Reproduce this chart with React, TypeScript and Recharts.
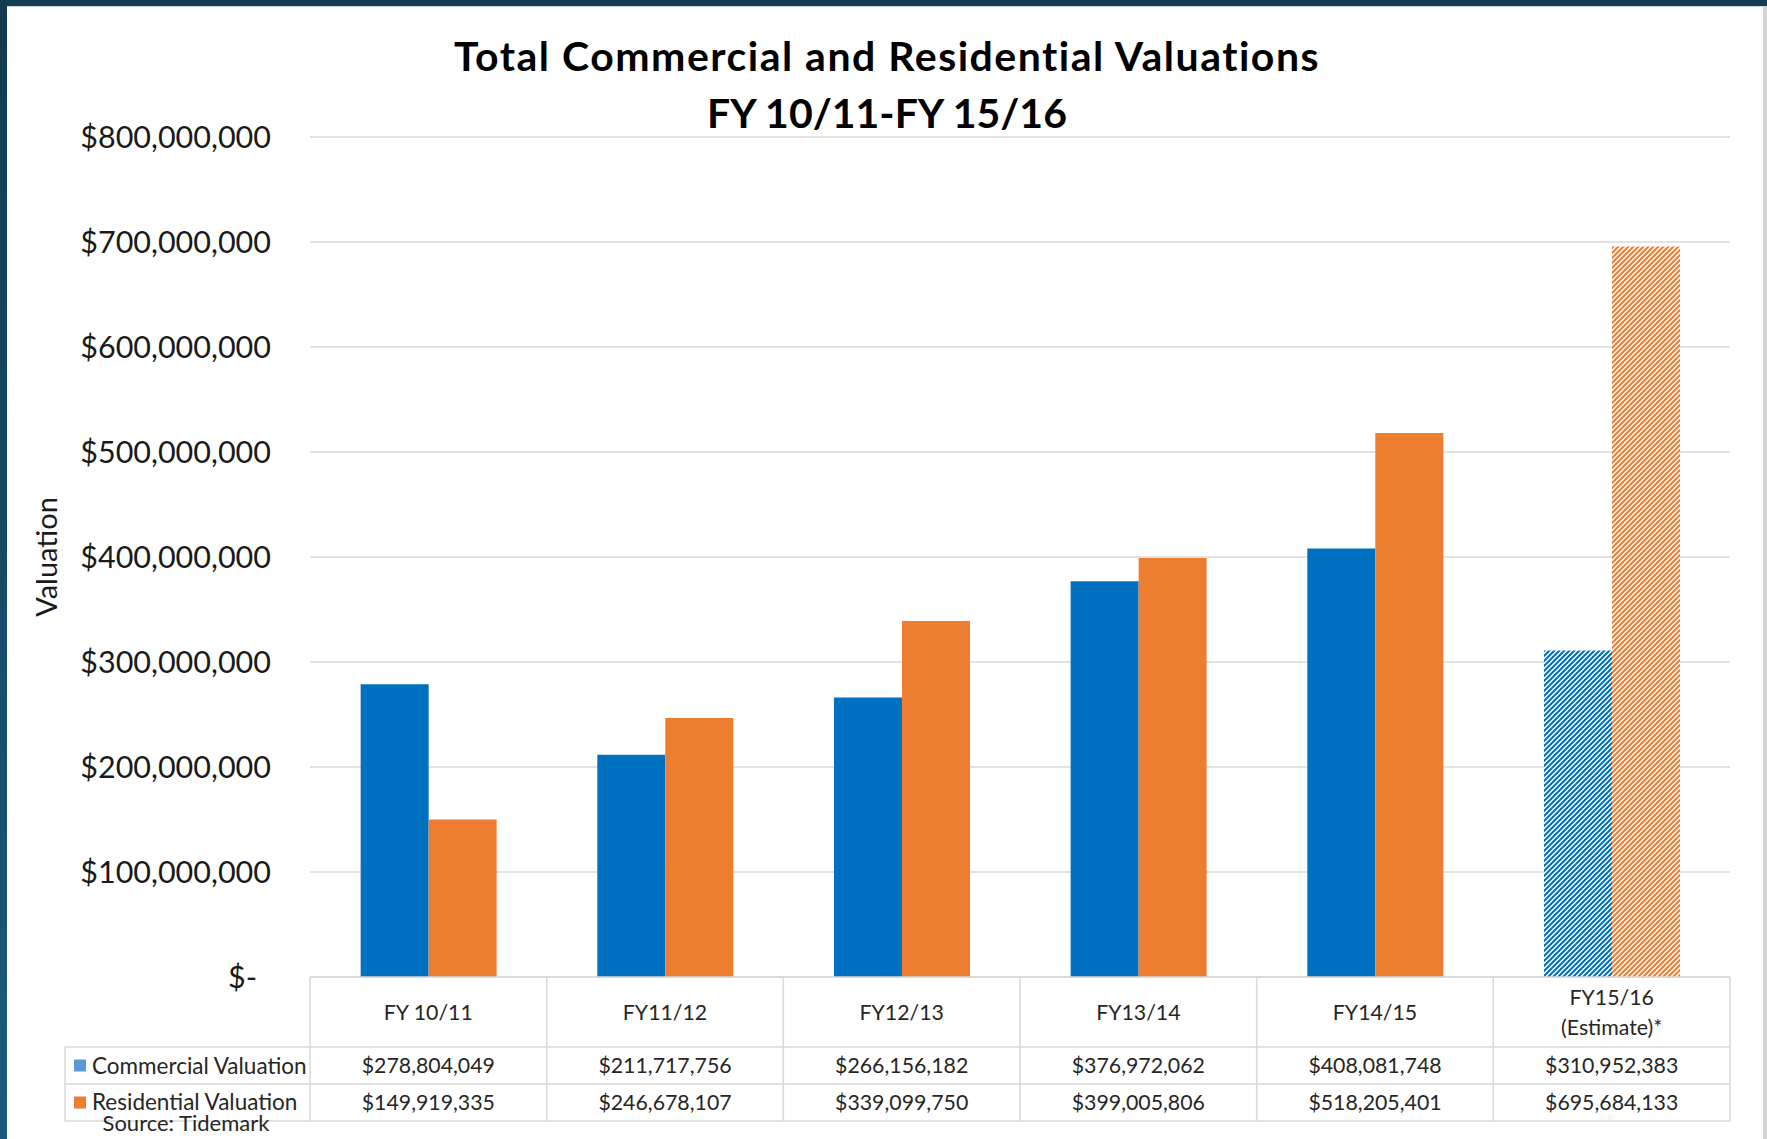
import React from 'react';
import { BarChart, Bar, XAxis, YAxis, CartesianGrid, Cell } from 'recharts';

const categories = ['FY 10/11', 'FY11/12', 'FY12/13', 'FY13/14', 'FY14/15', 'FY15/16\n(Estimate)*'];
const commercial = [278804049, 211717756, 266156182, 376972062, 408081748, 310952383];
const residential = [149919335, 246678107, 339099750, 399005806, 518205401, 695684133];
const isEstimate = [false, false, false, false, false, true];
const yTicks = [0, 100000000, 200000000, 300000000, 400000000, 500000000, 600000000, 700000000, 800000000];
const seriesNames = ['Commercial Valuation', 'Residential Valuation'];
const titleLines = ['Total Commercial and Residential Valuations', 'FY 10/11-FY 15/16'];

const data = categories.map((c, i) => ({
  category: c,
  commercial: commercial[i],
  residential: residential[i],
}));

const BLUE = '#0070C0';
const ORANGE = '#ED7D31';
const LEG_BLUE = '#5B9BD5';
const GRID = '#D9D9D9';
const FONT = 'Lato, "Open Sans", sans-serif';

const W = 1767;
const H = 1139;
const PLOT_LEFT = 310;
const PLOT_RIGHT = 1730;
const BAND = (PLOT_RIGHT - PLOT_LEFT) / categories.length;

function money(v: number): string {
  const s = Math.round(v).toString();
  let out = '';
  for (let i = 0; i < s.length; i++) {
    if (i > 0 && (s.length - i) % 3 === 0) out += ',';
    out += s[i];
  }
  return '$' + out;
}

const YTick = (props: any) => {
  const { x, y, payload } = props;
  const v = payload.value;
  const label = v === 0 ? '$-' : money(v);
  return (
    <text x={v === 0 ? x - 14 : x} y={y} dy="0.36em" textAnchor="end" fontFamily={FONT} fontSize={30.5} fill="#1a1a1a">
      {label}
    </text>
  );
};

const ROW1 = 70;
const ROW2 = 107;
const ROW3 = 144;

const TableTick = (props: any) => {
  const { x, y, payload } = props;
  const i = payload.index;
  const left = x - BAND / 2;
  const right = x + BAND / 2;
  const lines = String(payload.value).split('\n');
  const tx = { fontFamily: FONT, fontSize: 21.3, fill: '#262626', textAnchor: 'middle' as const };
  const legendLeft = 65;
  return (
    <g>
      <line x1={left} x2={right} y1={y} y2={y} stroke={GRID} strokeWidth={1.5} />
      <line x1={left} x2={right} y1={y + ROW1} y2={y + ROW1} stroke={GRID} strokeWidth={1.5} />
      <line x1={left} x2={right} y1={y + ROW2} y2={y + ROW2} stroke={GRID} strokeWidth={1.5} />
      <line x1={left} x2={right} y1={y + ROW3} y2={y + ROW3} stroke={GRID} strokeWidth={1.5} />
      <line x1={left} x2={left} y1={y} y2={y + ROW3} stroke={GRID} strokeWidth={1.5} />
      {i === categories.length - 1 && (
        <line x1={right} x2={right} y1={y} y2={y + ROW3} stroke={GRID} strokeWidth={1.5} />
      )}
      {lines.length === 1 ? (
        <text x={x} y={y + ROW1 / 2} dy="0.36em" {...tx}>{lines[0]}</text>
      ) : (
        lines.map((l, k) => (
          <text key={k} x={x} y={y + 20 + k * 30} dy="0.36em" {...tx}>{l}</text>
        ))
      )}
      <text x={x} y={y + (ROW1 + ROW2) / 2} dy="0.36em" {...tx}>{money(commercial[i])}</text>
      <text x={x} y={y + (ROW2 + ROW3) / 2} dy="0.36em" {...tx}>{money(residential[i])}</text>
      {i === 0 && (
        <g>
          <line x1={legendLeft} x2={left} y1={y + ROW1} y2={y + ROW1} stroke={GRID} strokeWidth={1.5} />
          <line x1={legendLeft} x2={left} y1={y + ROW2} y2={y + ROW2} stroke={GRID} strokeWidth={1.5} />
          <line x1={legendLeft} x2={left} y1={y + ROW3} y2={y + ROW3} stroke={GRID} strokeWidth={1.5} />
          <line x1={legendLeft} x2={legendLeft} y1={y + ROW1} y2={y + ROW3} stroke={GRID} strokeWidth={1.5} />
          <rect x={74} y={y + (ROW1 + ROW2) / 2 - 6} width={12} height={12} fill={LEG_BLUE} />
          <text x={92} y={y + (ROW1 + ROW2) / 2} dy="0.36em" fontFamily={FONT} fontSize={22.5} fill="#262626">{seriesNames[0]}</text>
          <rect x={74} y={y + (ROW2 + ROW3) / 2 - 6} width={12} height={12} fill={ORANGE} />
          <text x={92} y={y + (ROW2 + ROW3) / 2 - 1} dy="0.36em" fontFamily={FONT} fontSize={22.5} fill="#262626">{seriesNames[1]}</text>
          <text x={186} y={y + ROW3 + 2} dy="0.36em" textAnchor="middle" fontFamily={FONT} fontSize={22} fill="#262626">Source: Tidemark</text>
        </g>
      )}
    </g>
  );
};

const ValuationLabel = (props: any) => {
  const vb = props.viewBox || { x: 0, y: 137, width: 310, height: 840 };
  const cx = vb.x + 47;
  const cy = vb.y + vb.height / 2;
  return (
    <text x={cx} y={cy} dy="0.36em" textAnchor="middle" transform={`rotate(-90 ${cx} ${cy})`} fontFamily={FONT} fontSize={29} fill="#1a1a1a">
      Valuation
    </text>
  );
};

export default function App() {
  return (
    <div style={{ position: 'absolute', left: 0, top: 0, width: W, height: H, background: '#ffffff', overflow: 'hidden' }}>
      <div style={{ position: 'absolute', left: 0, top: 0, width: W, height: 6, background: '#133F55' }} />
      <div style={{ position: 'absolute', left: 0, top: 6, width: W, height: 1, background: '#cfd6da' }} />
      <div style={{ position: 'absolute', left: 0, top: 0, width: 7, height: H, background: 'linear-gradient(#123A50, #1A5B7B)' }} />
      <div style={{ position: 'absolute', left: 1763, top: 7, width: 4, height: H, background: '#D4D4D4' }} />
      <div style={{ position: 'absolute', left: 0, top: 27, width: 1774, textAlign: 'center', fontFamily: FONT, fontWeight: 700, fontSize: 41, lineHeight: '57px', color: '#000' }}>
        <div style={{ letterSpacing: '1.5px' }}>{titleLines[0]}</div>
        <div>{titleLines[1]}</div>
      </div>
      <BarChart
        width={W}
        height={H}
        data={data}
        margin={{ top: 137, right: W - PLOT_RIGHT, bottom: 0, left: 0 }}
        barCategoryGap="21.4%"
        barGap={0}
        style={{ position: 'absolute', left: 0, top: 0 }}
      >
        <defs>
          <pattern id="hatchBlue" patternUnits="userSpaceOnUse" width={5} height={5}>
            <rect width={5} height={5} fill="#ffffff" />
            <path d="M-1,1 l2,-2 M0,5 l5,-5 M4,6 l2,-2" stroke={BLUE} strokeWidth={2.1} />
          </pattern>
          <pattern id="hatchOrange" patternUnits="userSpaceOnUse" width={5} height={5}>
            <rect width={5} height={5} fill="#ffffff" />
            <path d="M-1,1 l2,-2 M0,5 l5,-5 M4,6 l2,-2" stroke={ORANGE} strokeWidth={2.1} />
          </pattern>
        </defs>
        <CartesianGrid vertical={false} stroke={GRID} strokeWidth={1.3} />
        <XAxis
          dataKey="category"
          height={H - 977}
          axisLine={false}
          tickLine={false}
          tickSize={0}
          tickMargin={0}
          interval={0}
          tick={<TableTick />}
        />
        <YAxis
          width={PLOT_LEFT}
          domain={[0, 800000000]}
          ticks={yTicks}
          axisLine={false}
          tickLine={false}
          tickSize={0}
          tickMargin={39}
          tick={<YTick />}
          label={{ content: (p: any) => <ValuationLabel {...p} /> }}
        />
        <Bar dataKey="commercial" fill={BLUE} isAnimationActive={false}>
          {data.map((d, i) => (
            <Cell key={'c' + i} fill={isEstimate[i] ? 'url(#hatchBlue)' : BLUE} />
          ))}
        </Bar>
        <Bar dataKey="residential" fill={ORANGE} isAnimationActive={false}>
          {data.map((d, i) => (
            <Cell key={'r' + i} fill={isEstimate[i] ? 'url(#hatchOrange)' : ORANGE} />
          ))}
        </Bar>
      </BarChart>
    </div>
  );
}
